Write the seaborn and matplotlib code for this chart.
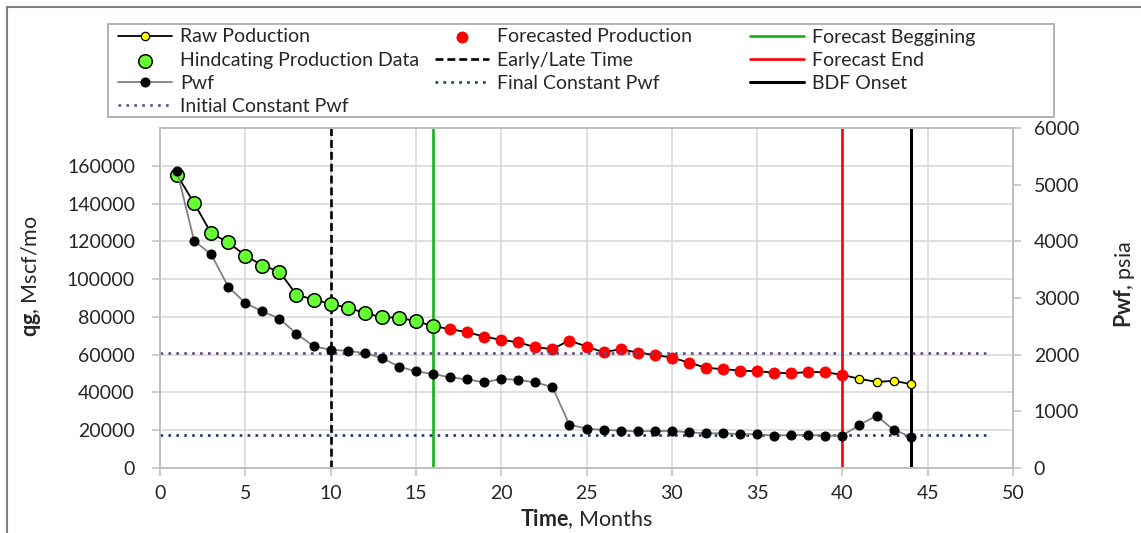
import matplotlib
matplotlib.use("Agg")
import matplotlib.pyplot as plt
import pandas as pd
import seaborn as sns
from matplotlib.lines import Line2D
from matplotlib.patches import Rectangle

# ---- data -------------------------------------------------------------
months = list(range(1, 45))
gas_rate = [155200, 140200, 124300, 119400, 112500, 107200, 104000, 91700, 89200, 86900,
            84900, 82100, 79800, 79600, 77700, 75200, 73500, 71900, 69600, 67800,
            66600, 63900, 63000, 67500, 64300, 61300, 62900, 61100, 59800, 58500,
            55800, 53100, 52300, 51600, 51200, 50500, 50100, 50900, 50700, 49300,
            47200, 45600, 46100, 44500]
pwf = [5240, 4010, 3770, 3200, 2910, 2765, 2635, 2370, 2150, 2085,
       2070, 2025, 1945, 1790, 1705, 1660, 1600, 1565, 1510, 1575,
       1555, 1510, 1430, 765, 695, 672, 660, 645, 653, 653,
       630, 612, 612, 600, 594, 572, 582, 582, 572, 572,
       760, 925, 672, 555]

early_late_month = 10
forecast_start_month = 16
forecast_end_month = 40
bdf_onset_month = 44

initial_const_pwf = 2035
final_const_pwf = 582
const_pwf_span = [0, 48.4]

x_ticks = list(range(0, 51, 5))
qg_ticks = list(range(0, 160001, 20000))
pwf_ticks = list(range(0, 6001, 1000))

# ---- style --------------------------------------------------------------
sns.set_theme(style="white")
plt.rcParams["font.family"] = ["Lato", "DejaVu Sans"]
plt.rcParams["mathtext.fontset"] = "custom"
plt.rcParams["mathtext.rm"] = "Lato"
plt.rcParams["mathtext.bf"] = "Lato:bold"
plt.rcParams["text.color"] = "#262626"

W, H = 1141, 533
GRID = "#D9D9D9"
SPINE = "#BFBFBF"
TXT = "#262626"
LIME = "#66FF33"
GREEN = "#14B414"
PURPLE = "#5F4B8B"
NAVY = "#203870"
FS = 14

df = pd.DataFrame({"month": months, "qg": gas_rate, "pwf": pwf})
hindcast = df[df["month"] <= forecast_start_month]
forecast = df[(df["month"] > forecast_start_month) & (df["month"] <= forecast_end_month)]

fig = plt.figure(figsize=(W / 100, H / 100), dpi=100)
ax = fig.add_axes([160 / W, 1 - 468 / H, 853 / W, 340 / H])
ax2 = ax.twinx()

# event markers
ax.axvline(early_late_month, color="black", ls=(0, (3, 1.5)), lw=1.9,
           label="Early/Late Time", zorder=2)
ax.axvline(forecast_start_month, color=GREEN, lw=1.9, label="Forecast Beggining", zorder=2)
ax.axvline(forecast_end_month, color="#FF0000", lw=1.9, label="Forecast End", zorder=2)
ax.axvline(bdf_onset_month, color="black", lw=2.2, label="BDF Onset", zorder=2)

# production
sns.lineplot(data=df, x="month", y="qg", ax=ax, color="black", lw=1.3,
             marker="o", markersize=6, markerfacecolor="#FFFF00",
             markeredgecolor="black", markeredgewidth=0.9,
             label="Raw Poduction", zorder=3)
sns.scatterplot(data=hindcast, x="month", y="qg", ax=ax, s=95, color=LIME,
                edgecolor="black", linewidth=1.1,
                label="Hindcating Production Data", zorder=4)
sns.scatterplot(data=forecast, x="month", y="qg", ax=ax, s=65, color="#FF0000",
                edgecolor="#FF0000", linewidth=0.5,
                label="Forecasted Production", zorder=4)

# bottom-hole pressure
ax2.plot(const_pwf_span, [initial_const_pwf] * 2, color=PURPLE, lw=1.9,
         ls=(0, (1, 2)), label="Initial Constant Pwf", zorder=2)
ax2.plot(const_pwf_span, [final_const_pwf] * 2, color=NAVY, lw=1.9,
         ls=(0, (1, 2)), label="Final Constant Pwf", zorder=2)
sns.lineplot(data=df, x="month", y="pwf", ax=ax2, color="#808080", lw=1.3,
             marker="o", markersize=6.5, markerfacecolor="black",
             markeredgecolor="black", label="Pwf", zorder=3)

for a in (ax, ax2):
    if a.get_legend() is not None:
        a.get_legend().remove()

# ---- axes ---------------------------------------------------------------
ax.set_xlim(0, 50)
ax.set_ylim(0, 180000)
ax2.set_ylim(0, 6000)
ax.set_xticks(x_ticks)
ax.set_yticks(qg_ticks)
ax2.set_yticks(pwf_ticks)
ax.set_axisbelow(True)
ax.grid(True, color=GRID, lw=1.2)
ax2.grid(False)

for a in (ax, ax2):
    for s in a.spines.values():
        s.set_color(SPINE)
        s.set_linewidth(1.2)

ax.tick_params(axis="x", bottom=True, direction="out", length=6, width=1.1,
               color=SPINE, labelsize=FS, labelcolor=TXT, pad=6)
ax.tick_params(axis="y", left=True, direction="out", length=6, width=1.1,
               color=SPINE, labelsize=FS, labelcolor=TXT, pad=12)
ax2.tick_params(axis="y", right=True, direction="out", length=6, width=1.1,
                color=SPINE, labelsize=FS, labelcolor=TXT, pad=9)

ax.set_xlabel(r"$\mathbf{Time}$, Months", fontsize=15.5, color=TXT)
ax.set_ylabel(r"$\mathbf{qg}$, Mscf/mo", fontsize=15.5, color=TXT)
ax2.set_ylabel(r"$\mathbf{Pwf}$, psia", fontsize=15.5, color=TXT)
ax.xaxis.set_label_coords(0.5, -0.115)
ax.yaxis.set_label_coords(-0.137, 0.565)
ax2.yaxis.set_label_coords(1.1165, 0.54)

# ---- legend -------------------------------------------------------------
handles = {}
for a in (ax, ax2):
    hs, ls = a.get_legend_handles_labels()
    handles.update(dict(zip(ls, hs)))

columns = [
    (118, ["Raw Poduction", "Hindcating Production Data", "Pwf", "Initial Constant Pwf"]),
    (435, ["Forecasted Production", "Early/Late Time", "Final Constant Pwf"]),
    (750, ["Forecast Beggining", "Forecast End", "BDF Onset"]),
]
for x0, labels in columns:
    fig.legend([handles[l] for l in labels], labels, loc="upper left",
               bbox_to_anchor=(x0 / W, 1 - 28.5 / H), bbox_transform=fig.transFigure,
               frameon=False, borderpad=0, borderaxespad=0, fontsize=FS,
               handlelength=2.78, handletextpad=0.41, labelspacing=0.32,
               numpoints=1, scatterpoints=1, labelcolor=TXT)

fig.add_artist(Rectangle((108 / W, 1 - 117 / H), 946 / W, 93 / H,
                         transform=fig.transFigure, fill=False,
                         edgecolor="#A6A6A6", lw=1.2))

# outer chart border
fig.add_artist(Line2D([7 / W, 7 / W], [0, 1 - 7 / H], transform=fig.transFigure,
                      color="#7F7F7F", lw=1.5))
fig.add_artist(Line2D([7 / W, 1], [1 - 7 / H, 1 - 7 / H], transform=fig.transFigure,
                      color="#7F7F7F", lw=1.5))

fig.savefig("out.png", dpi=100)
